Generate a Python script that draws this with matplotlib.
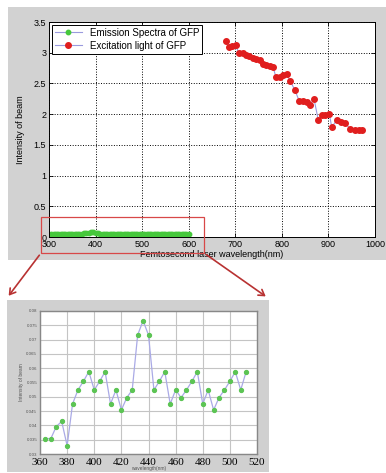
import matplotlib
matplotlib.use("Agg")
import matplotlib.pyplot as plt
from matplotlib.patches import Rectangle, FancyArrowPatch

# main plot: emission spectra (green) and excitation light (red)
em_nm = [305, 310, 315, 320, 325, 330, 335, 340, 345, 350,
         355, 360, 365, 370, 375, 380, 385, 390, 395, 400,
         405, 410, 415, 420, 425, 430, 435, 440, 445, 450,
         455, 460, 465, 470, 475, 480, 485, 490, 495, 500,
         505, 510, 515, 520, 525, 530, 535, 540, 545, 550,
         555, 560, 565, 570, 575, 580, 585, 590, 595, 600]
em_val = [0.045, 0.05, 0.048, 0.052, 0.05, 0.047, 0.05, 0.053, 0.049, 0.051,
          0.05, 0.052, 0.053, 0.055, 0.058, 0.062, 0.068, 0.074, 0.076, 0.07,
          0.058, 0.055, 0.052, 0.05, 0.051, 0.049, 0.052, 0.05, 0.048, 0.05,
          0.052, 0.049, 0.05, 0.051, 0.048, 0.05, 0.052, 0.05, 0.049, 0.051,
          0.05, 0.048, 0.05, 0.052, 0.049, 0.05, 0.051, 0.048, 0.05, 0.049,
          0.05, 0.052, 0.05, 0.048, 0.05, 0.051, 0.049, 0.05, 0.048, 0.05]

ex_nm = [680, 687, 694, 701, 707, 716, 723, 730, 737, 745,
         752, 759, 766, 774, 781, 787, 795, 802, 810, 818,
         828, 837, 846, 853, 860, 869, 878, 886, 893, 902,
         907, 918, 927, 936, 947, 956, 965, 972]
ex_val = [3.19, 3.09, 3.11, 3.12, 3.0, 2.99, 2.97, 2.95, 2.92, 2.89,
          2.88, 2.82, 2.8, 2.79, 2.77, 2.61, 2.61, 2.63, 2.65, 2.54,
          2.39, 2.22, 2.21, 2.19, 2.15, 2.25, 1.91, 1.98, 1.98, 2.0,
          1.79, 1.9, 1.87, 1.85, 1.76, 1.75, 1.75, 1.74]

# zoomed inset of the emission spectra
zoom_nm = [364, 368, 372, 376, 380, 384, 388, 392, 396, 400,
           404, 408, 412, 416, 420, 424, 428, 432, 436, 440,
           444, 448, 452, 456, 460, 464, 468, 472, 476, 480,
           484, 488, 492, 496, 500, 504, 508, 512]
zoom_val = [0.0354, 0.0354, 0.0396, 0.0414, 0.0329, 0.0475, 0.0524, 0.0554, 0.0588, 0.0524,
            0.0554, 0.0588, 0.0475, 0.0524, 0.0454, 0.0497, 0.0524, 0.0716, 0.0766, 0.0716,
            0.0524, 0.0554, 0.0588, 0.0475, 0.0524, 0.0497, 0.0524, 0.0554, 0.0588, 0.0475,
            0.0524, 0.0454, 0.0497, 0.0524, 0.0554, 0.0588, 0.0524, 0.0588]

line_col = '#9a9ade'
green = '#46c83c'
red = '#e01e1e'

W, H = 386, 473
fig = plt.figure(figsize=(W / 100, H / 100), dpi=100)
fig.patch.set_facecolor('white')

def px(x0, y0, x1, y1):
    return [x0 / W, 1 - y1 / H, (x1 - x0) / W, (y1 - y0) / H]

# gray panels behind both plots
fig.patches.append(Rectangle((8 / W, 1 - 260 / H), 378 / W, 253 / H,
                             transform=fig.transFigure, facecolor='#d2d2d2',
                             edgecolor='none', zorder=-10))
fig.patches.append(Rectangle((7 / W, 1 - 472 / H), 262 / W, 172 / H,
                             transform=fig.transFigure, facecolor='#d0d0d0',
                             edgecolor='none', zorder=-10))

plt.rcParams['font.family'] = ['Liberation Sans', 'DejaVu Sans']

ax = fig.add_axes(px(49, 22, 375, 237), zorder=2)
ax.plot(em_nm, em_val, color=line_col, lw=0.8, marker='o', ms=3.2,
        mfc=green, mec=green, label='Emission Spectra of GFP')
ax.plot(ex_nm, ex_val, color=line_col, lw=0.8, marker='o', ms=4.0,
        mfc=red, mec=red, label='Excitation light of GFP')
ax.set_xlim(300, 1000)
ax.set_ylim(0, 3.5)
ax.set_xticks(range(300, 1001, 100))
ax.set_yticks([0, 0.5, 1, 1.5, 2, 2.5, 3, 3.5])
ax.set_yticklabels(['0', '0.5', '1', '1.5', '2', '2.5', '3', '3.5'])
ax.tick_params(direction='in', labelsize=6.5, length=3, width=0.6,
               top=True, right=True, pad=2)
ax.grid(True, linestyle=':', color='black', lw=0.7)
for s in ax.spines.values():
    s.set_linewidth(0.7)
ax.set_xlabel('Femtosecond laser wavelength(nm)', fontsize=6.5, labelpad=1)
ax.set_ylabel('Intensity of beam', fontsize=6.5, labelpad=6)
leg = ax.legend(loc='upper left', fontsize=7, frameon=True, fancybox=False,
                edgecolor='black', borderpad=0.3, handlelength=2.8,
                labelspacing=0.3, borderaxespad=0.3, framealpha=1)
leg.get_frame().set_linewidth(0.7)

# inset
ins = fig.add_axes(px(40, 311, 257, 454), zorder=2)
ins.plot(zoom_nm, zoom_val, color='#aaaae6', lw=0.9, marker='o', ms=2.8,
         mfc='#5cc454', mec='#5cc454')
ins.set_xlim(360, 520)
ins.set_ylim(0.03, 0.08)
ins.set_xticks(range(360, 521, 20))
ins.set_yticks([0.03, 0.035, 0.04, 0.045, 0.05, 0.055, 0.06, 0.065, 0.07, 0.075, 0.08])
ins.set_yticklabels(['0.03', '0.035', '0.04', '0.045', '0.05', '0.055', '0.06',
                     '0.065', '0.07', '0.075', '0.08'])
ins.tick_params(axis='y', labelsize=3.2, length=0, pad=2, labelcolor='#555555')
ins.tick_params(axis='x', labelsize=8, length=0, pad=3)
for lab in ins.get_xticklabels():
    lab.set_family(['Liberation Serif', 'DejaVu Serif'])
ins.grid(True, color='#c4c4c4', lw=0.8)
for s in ins.spines.values():
    s.set_color('#888888')
    s.set_linewidth(1.0)
ins.set_xlabel('wavelength(nm)', fontsize=3.5, labelpad=-1, color='#555555')
ins.set_ylabel('Intensity of beam', fontsize=3.5, labelpad=2, color='#555555')

# red zoom box and arrows, in pixel coordinates
over = fig.add_axes([0, 0, 1, 1], zorder=10)
over.set_xlim(0, W)
over.set_ylim(H, 0)
over.axis('off')
over.patch.set_alpha(0)
over.add_patch(Rectangle((41, 217), 163, 36, facecolor='none',
                         edgecolor='#d84848', lw=0.9))
for start, end in [((41, 253), (7, 298)), ((204, 253), (268, 298))]:
    over.add_patch(FancyArrowPatch(start, end, arrowstyle='->,head_length=4,head_width=2.5',
                                   color='#b83232', lw=1.2, mutation_scale=1))

fig.savefig('out.png', dpi=100)
